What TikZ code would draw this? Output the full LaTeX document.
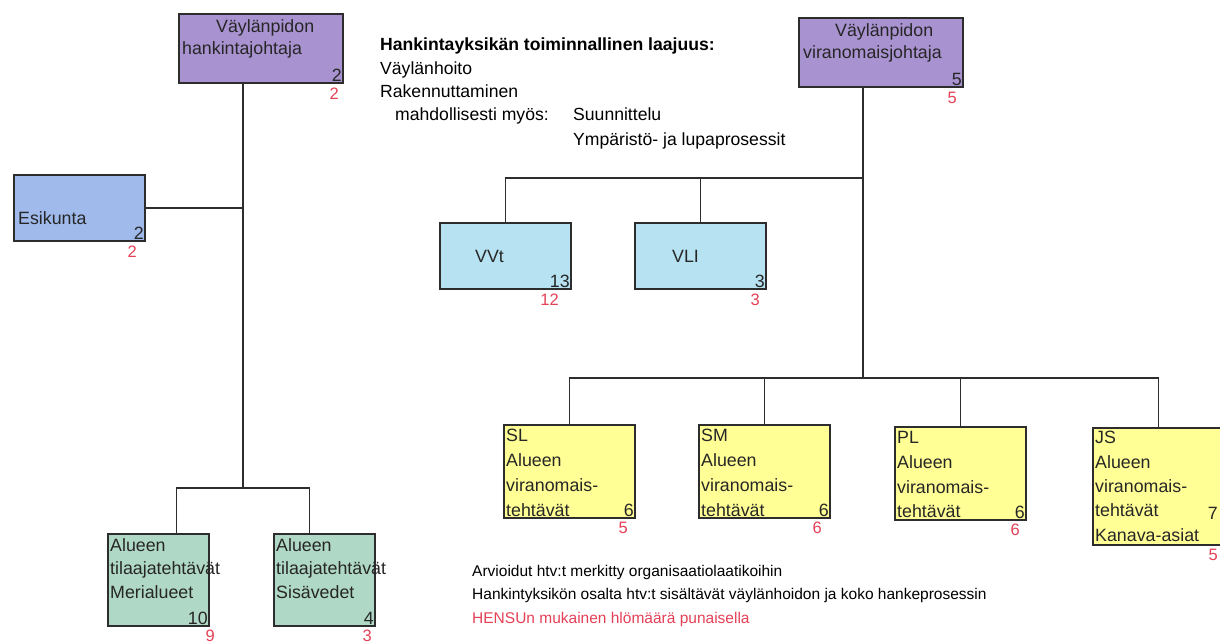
\documentclass[tikz,border=0pt]{standalone}
\usepackage{fontspec}
\setmainfont{Liberation Sans}
\usetikzlibrary{positioning}

\definecolor{lilac}{RGB}{168,146,208}
\definecolor{staffblue}{RGB}{160,186,236}
\definecolor{unitcyan}{RGB}{182,226,242}
\definecolor{areagreen}{RGB}{176,216,198}
\definecolor{areayellow}{RGB}{255,255,150}
\definecolor{hensured}{RGB}{228,64,86}
\definecolor{edgegray}{RGB}{45,45,45}

\begin{document}
\begin{tikzpicture}[
    x=1pt, y=-1pt,
    orgbox/.style={rectangle, draw=edgegray, line width=1.9pt, anchor=north west, inner sep=0pt},
    boss/.style={orgbox, fill=lilac, minimum width=164pt, minimum height=69pt},
    staff/.style={orgbox, fill=staffblue, minimum width=131pt, minimum height=66pt},
    unit/.style={orgbox, fill=unitcyan, minimum width=131pt, minimum height=66pt},
    buyer/.style={orgbox, fill=areagreen, minimum width=101pt, minimum height=92pt},
    office/.style={orgbox, fill=areayellow, minimum width=131pt, minimum height=93pt},
    boxtext/.style={anchor=north west, align=left, inner sep=0pt, text=black!85, font=\fontsize{17.8}{24.8}\selectfont},
    num/.style={anchor=south east, inner sep=2pt, text=black!85, font=\fontsize{17.8}{20}\selectfont},
    hensu/.style={anchor=north east, inner sep=1pt, text=hensured, font=\fontsize{16.5}{20}\selectfont},
    note/.style={anchor=north west, align=left, inner sep=0pt, font=\fontsize{15.5}{23.5}\selectfont},
    link/.style={draw=edgegray, line width=1.9pt}
]
\useasboundingbox (0,0) rectangle (1220,644);
% Johtajat
\node[boss] (hank) at (178,13) {};
\node[boxtext, font=\fontsize{17.8}{22}\selectfont] (hanktxt) at ([xshift=4pt,yshift=-6pt]hank.north west) {\hspace*{34pt}Väylänpidon\\hankintajohtaja};
\node[num] (hanknum) at (hank.south east) {2};
\node[hensu] (hankred) at ([xshift=-4pt,yshift=-3pt]hank.south east) {2};
\node[boss] (vir) at (798,17) {};
\node[boxtext, font=\fontsize{17.8}{22}\selectfont] (virtxt) at ([xshift=5pt,yshift=-6pt]vir.north west) {\hspace*{32pt}Väylänpidon\\viranomaisjohtaja};
\node[num] (virnum) at (vir.south east) {5};
\node[hensu] (virred) at ([xshift=-6pt,yshift=-3pt]vir.south east) {5};
% Esikunta
\node[staff] (esik) at (13,174) {};
\node[boxtext, anchor=west] (esiktxt) at ([xshift=5pt,yshift=-10pt]esik.west) {Esikunta};
\node[num] (esiknum) at (esik.south east) {2};
\node[hensu] (esikred) at ([xshift=-8pt,yshift=-3pt]esik.south east) {2};
% Viranomaisyksikot
\node[unit] (vvt) at (439,222) {};
\node[boxtext, anchor=west] (vvttxt) at ([xshift=36pt]vvt.west) {VVt};
\node[num] (vvtnum) at (vvt.south east) {13};
\node[hensu] (vvtred) at ([xshift=-12pt,yshift=-3pt]vvt.south east) {12};
\node[unit] (vli) at (634,222) {};
\node[boxtext, anchor=west] (vlitxt) at ([xshift=38pt]vli.west) {VLI};
\node[num] (vlinum) at (vli.south east) {3};
\node[hensu] (vlired) at ([xshift=-6pt,yshift=-3pt]vli.south east) {3};
% Alueen tilaajatehtavat
\node[buyer] (meri) at (107,533) {};
\node[boxtext, font=\fontsize{17.8}{23.5}\selectfont] (meritxt) at ([xshift=3pt,yshift=-5pt]meri.north west) {Alueen\\tilaajatehtävät\\Merialueet};
\node[num] (merinum) at (meri.south east) {10};
\node[hensu] (merired) at ([xshift=6pt,yshift=-2pt]meri.south east) {9};
\node[buyer] (sisa) at (273,533) {};
\node[boxtext, font=\fontsize{17.8}{23.5}\selectfont] (sisatxt) at ([xshift=3pt,yshift=-5pt]sisa.north west) {Alueen\\tilaajatehtävät\\Sisävedet};
\node[num] (sisanum) at (sisa.south east) {4};
\node[hensu] (sisared) at ([xshift=-3pt,yshift=-2pt]sisa.south east) {3};
% Alueen viranomaistehtavat
\node[office] (sl) at (503,424) {};
\node[boxtext] (sltxt) at ([xshift=3pt,yshift=-5pt]sl.north west) {SL\\Alueen\\viranomais-\\tehtävät};
\node[num] (slnum) at (sl.south east) {6};
\node[hensu] (slred) at ([xshift=-7pt,yshift=-2pt]sl.south east) {5};
\node[office] (sm) at (698,424) {};
\node[boxtext] (smtxt) at ([xshift=3pt,yshift=-5pt]sm.north west) {SM\\Alueen\\viranomais-\\tehtävät};
\node[num] (smnum) at (sm.south east) {6};
\node[hensu] (smred) at ([xshift=-8pt,yshift=-2pt]sm.south east) {6};
\node[office] (pl) at (894,426) {};
\node[boxtext] (pltxt) at ([xshift=3pt,yshift=-5pt]pl.north west) {PL\\Alueen\\viranomais-\\tehtävät};
\node[num] (plnum) at (pl.south east) {6};
\node[hensu] (plred) at ([xshift=-6pt,yshift=-2pt]pl.south east) {6};
\node[office, minimum height=117pt] (js) at (1092,427) {};
\node[boxtext, font=\fontsize{17.8}{24.4}\selectfont] (jstxt) at ([xshift=3pt,yshift=-4pt]js.north west) {JS\\Alueen\\viranomais-\\tehtävät\\Kanava-asiat};
\node[num] (jsnum) at ([xshift=-5pt,yshift=24pt]js.south east) {7};
\node[hensu] (jsred) at ([xshift=-6pt,yshift=-2pt]js.south east) {5};
% Tekstit
\node[note, font=\fontsize{17.6}{23.5}\selectfont] (scope) at (380,38) {\textbf{Hankintayksikän toiminnallinen laajuus:}\\Väylänhoito\\Rakennuttaminen};
\node[note, font=\fontsize{17.6}{23.5}\selectfont] (maybe) at (395,108) {mahdollisesti myös:};
\node[note, font=\fontsize{17.6}{24.5}\selectfont] (maybelist) at (573,108) {Suunnittelu\\Ympäristö- ja lupaprosessit};
\node[note] (remarks) at (472,565) {Arvioidut htv:t merkitty organisaatiolaatikoihin\\Hankintyksikön osalta htv:t sisältävät väylänhoidon ja koko hankeprosessin\\\textcolor{hensured}{HENSUn mukainen hlömäärä punaisella}};
% Linjat
\coordinate (ljoin) at (243,488);
\coordinate (rmid) at (863,178);
\coordinate (rjoin) at (863,378);
\draw[link] (ljoin |- hank.south) -- (ljoin);
\draw[link] (esik.east) -- (esik.east -| ljoin);
\draw[link] ([xshift=18pt]meri.north) |- (ljoin) -| ([xshift=-15pt]sisa.north);
\draw[link] (rjoin |- vir.south) -- (rjoin);
\draw[link] (vvt.north) |- (rmid);
\draw[link] (vli.north) -- (vli.north |- rmid);
\draw[link] (sl.north) |- (rjoin) -| (js.north);
\draw[link] (sm.north) -- (sm.north |- rjoin);
\draw[link] (pl.north) -- (pl.north |- rjoin);
\end{tikzpicture}
\end{document}
